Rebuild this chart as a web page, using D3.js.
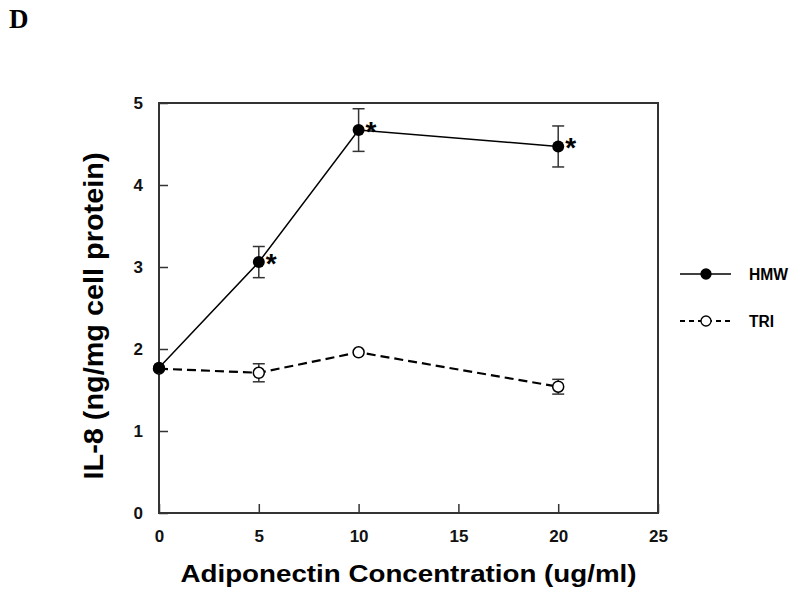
<!DOCTYPE html>
<html>
<head>
<meta charset="utf-8">
<script src="https://cdn.jsdelivr.net/npm/d3@7"></script>
<style>
  body { margin: 0; background: #fff; }
  text { font-family: Arial, "Liberation Sans", sans-serif; }
</style>
</head>
<body>
<div id="chart"></div>
<script>
// data
const doses = [0, 5, 10, 20];
const hmwMean = [1.77, 3.06, 4.67, 4.47];
const hmwErr = [0, 0.19, 0.26, 0.25];
const hmwStar = [false, true, true, true];
const triMean = [1.76, 1.71, 1.96, 1.54];
const triErr = [0, 0.11, 0, 0.09];
const xTicks = [0, 5, 10, 15, 20, 25];
const yTicks = [0, 1, 2, 3, 4, 5];

const margin = {top: 103, left: 159};
const width = 499, height = 410;

const x = d3.scaleLinear().domain([0, 25]).range([0, width]);
const y = d3.scaleLinear().domain([0, 5]).range([height, 0]);

const svg = d3.select("#chart").append("svg")
    .attr("width", 800)
    .attr("height", 597);

svg.append("text")
    .text("D")
    .attr("x", 9).attr("y", 28)
    .style("font-family", "'Liberation Serif', 'Times New Roman', serif")
    .style("font-weight", "bold")
    .style("font-size", "27px");

const chart = svg.append("g")
    .attr("transform", "translate(" + margin.left + "," + margin.top + ")");

// axes, ticks pointing inward
const xAxis = d3.axisBottom(x).tickValues(xTicks).tickSize(-9).tickPadding(17).tickFormat(d3.format("d"));
const yAxis = d3.axisLeft(y).tickValues(yTicks).tickSize(-9).tickPadding(16).tickFormat(d3.format("d"));

const gx = chart.append("g").attr("transform", "translate(0," + height + ")").call(xAxis);
const gy = chart.append("g").call(yAxis);
[gx, gy].forEach(g => {
    g.select(".domain").remove();
    g.selectAll("line").attr("stroke", "#333").attr("stroke-width", 1.5);
    g.selectAll("text")
        .style("font-size", "17px")
        .style("font-weight", "bold")
        .attr("fill", "#111");
});

// frame
chart.append("rect")
    .attr("x", 0).attr("y", 0)
    .attr("width", width).attr("height", height)
    .attr("fill", "none")
    .attr("stroke", "#333")
    .attr("stroke-width", 2);

// axis titles
svg.append("text")
    .text("Adiponectin Concentration (ug/ml)")
    .attr("x", margin.left + width / 2).attr("y", 582)
    .attr("text-anchor", "middle")
    .attr("textLength", 456).attr("lengthAdjust", "spacingAndGlyphs")
    .style("font-size", "24px").style("font-weight", "bold");

svg.append("text")
    .text("IL-8 (ng/mg cell protein)")
    .attr("transform", "translate(103," + (margin.top + height / 2 + 8) + ") rotate(-90)")
    .attr("text-anchor", "middle")
    .attr("textLength", 327).attr("lengthAdjust", "spacingAndGlyphs")
    .style("font-size", "28px").style("font-weight", "bold");

const hmw = doses.map((d, i) => ({dose: d, mean: hmwMean[i], err: hmwErr[i], star: hmwStar[i]}));
const tri = doses.map((d, i) => ({dose: d, mean: triMean[i], err: triErr[i]}));

const line = d3.line().x(d => x(d.dose)).y(d => y(d.mean));

function errorBars(data) {
    const g = chart.append("g").attr("stroke", "#333").attr("stroke-width", 1.5);
    data.filter(d => d.err > 0).forEach(d => {
        const cx = x(d.dose);
        g.append("line").attr("x1", cx).attr("x2", cx)
            .attr("y1", y(d.mean + d.err)).attr("y2", y(d.mean - d.err));
        [d.mean + d.err, d.mean - d.err].forEach(v => {
            g.append("line").attr("x1", cx - 6).attr("x2", cx + 6)
                .attr("y1", y(v)).attr("y2", y(v));
        });
    });
}

errorBars(tri);
errorBars(hmw);

chart.append("path").datum(tri)
    .attr("fill", "none").attr("stroke", "#000")
    .attr("stroke-width", 2.2)
    .attr("stroke-dasharray", "9,5")
    .attr("d", line);

chart.append("path").datum(hmw)
    .attr("fill", "none").attr("stroke", "#000")
    .attr("stroke-width", 1.5)
    .attr("d", line);

chart.selectAll(".tri").data(tri).enter()
    .append("circle")
    .attr("cx", d => x(d.dose)).attr("cy", d => y(d.mean))
    .attr("r", 5.5)
    .attr("fill", "#fff").attr("stroke", "#000").attr("stroke-width", 1.5);

chart.selectAll(".hmw").data(hmw).enter()
    .append("circle")
    .attr("cx", d => x(d.dose)).attr("cy", d => y(d.mean))
    .attr("r", 6).attr("fill", "#000");

chart.selectAll(".star").data(hmw.filter(d => d.star)).enter()
    .append("text")
    .text("*")
    .attr("x", d => x(d.dose) + 7).attr("y", d => y(d.mean) + 11)
    .style("font-size", "28px").style("font-weight", "bold");

// legend
const legend = svg.append("g");
const items = [
    {label: "HMW", y: 274, dash: null, fill: "#000", w: 1.5, len: 39},
    {label: "TRI", y: 321, dash: "5,4", fill: "#fff", w: 2, len: 25}
];
items.forEach(it => {
    legend.append("line")
        .attr("x1", 680).attr("x2", 731)
        .attr("y1", it.y).attr("y2", it.y)
        .attr("stroke", "#000").attr("stroke-width", it.w)
        .attr("stroke-dasharray", it.dash);
    legend.append("circle")
        .attr("cx", 706).attr("cy", it.y).attr("r", 5)
        .attr("fill", it.fill).attr("stroke", "#000").attr("stroke-width", 1.3);
    legend.append("text")
        .text(it.label)
        .attr("x", 749).attr("y", it.y + 6)
        .attr("textLength", it.len).attr("lengthAdjust", "spacingAndGlyphs")
        .style("font-size", "16px").style("font-weight", "bold");
});
</script>
</body>
</html>
